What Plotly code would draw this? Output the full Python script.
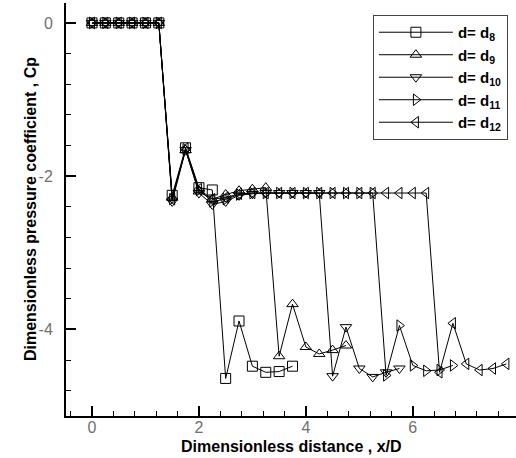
import plotly.graph_objects as go

# x positions (x/D), shared grid, step
x_grid = [0.0, 0.25, 0.5, 0.75, 1.0, 1.25, 1.5, 1.75, 2.0, 2.25, 2.5, 2.75,
          3.0, 3.25, 3.5, 3.75, 4.0, 4.25, 4.5, 4.75, 5.0, 5.25, 5.5, 5.75,
          6.0, 6.25, 6.5, 6.75, 7.0, 7.25, 7.5, 7.75]

cp_d8 = [0, 0, 0, 0, 0, 0, -2.25, -1.63, -2.15, -2.18,
         -4.64, -3.89, -4.48, -4.56, -4.55, -4.48]
cp_d9 = [0, 0, 0, 0, 0, 0, -2.28, -1.66, -2.2, -2.3, -2.24, -2.19, -2.17, -2.15,
         -4.35, -3.67, -4.23, -4.32, -4.27, -4.21]
cp_d10 = [0, 0, 0, 0, 0, 0, -2.33, -1.66, -2.22, -2.37, -2.33, -2.25, -2.23,
          -2.22, -2.22, -2.22, -2.22, -2.22,
          -4.61, -3.97, -4.51, -4.62, -4.56, -4.51]
cp_d11 = [0, 0, 0, 0, 0, 0, -2.3, -1.65, -2.18, -2.33, -2.3, -2.24, -2.22,
          -2.22, -2.22, -2.22, -2.22, -2.22, -2.22, -2.22, -2.22, -2.22,
          -4.6, -3.95, -4.47, -4.54, -4.53, -4.47]
cp_d12 = [0, 0, 0, 0, 0, 0, -2.3, -1.64, -2.17, -2.3, -2.28, -2.23, -2.22,
          -2.22, -2.22, -2.22, -2.22, -2.22, -2.22, -2.22, -2.22, -2.22,
          -2.22, -2.22, -2.22, -2.22,
          -4.56, -3.92, -4.45, -4.53, -4.51, -4.45]

series_names = ["d= d<sub>8</sub>", "d= d<sub>9</sub>", "d= d<sub>10</sub>",
                "d= d<sub>11</sub>", "d= d<sub>12</sub>"]
series_values = [cp_d8, cp_d9, cp_d10, cp_d11, cp_d12]
symbols = ["square-open", "triangle-up-open", "triangle-down-open",
           "triangle-right-open", "triangle-left-open"]

x_tickvals = [0, 2, 4, 6]
x_ticktext = ["0", "2", "4", "6"]
y_tickvals = [0, -2, -4]
y_ticktext = ["0", "-2", "-4"]

fig = go.Figure()
for name, vals, sym in zip(series_names, series_values, symbols):
    fig.add_trace(go.Scatter(
        x=x_grid[:len(vals)], y=vals, name=name, mode="lines+markers",
        line=dict(color="black", width=1),
        marker=dict(symbol=sym, size=10, color="black",
                    line=dict(color="black", width=1)),
    ))

FONT = "Arial, Liberation Sans, sans-serif"
tickfont = dict(family=FONT, size=16, color="#707070")
axis_common = dict(
    showline=True, linecolor="black", linewidth=2, showgrid=False,
    zeroline=False, ticks="inside", ticklen=10, tickwidth=2, tickcolor="black",
    tickfont=tickfont, automargin=False, mirror=False,
)

fig.update_layout(
    width=516, height=458,
    margin=dict(l=66, r=0, t=3, b=42),
    paper_bgcolor="white", plot_bgcolor="white",
    showlegend=True,
    legend=dict(
        x=0.982, y=0.971, xanchor="right", yanchor="top",
        bgcolor="white", bordercolor="#444444", borderwidth=1,
        font=dict(family=FONT, size=15, color="black", weight="bold"),
        itemwidth=74, tracegroupgap=0,
    ),
    xaxis=dict(range=[-0.486, 7.93], tickvals=x_tickvals, ticktext=x_ticktext,
               ticklabelstandoff=-4,
               minor=dict(dtick=0.4, tick0=0, ticks="inside", ticklen=5,
                          tickwidth=1, tickcolor="black"),
               **axis_common),
    yaxis=dict(range=[-5.13, 0.26], tickvals=y_tickvals, ticktext=y_ticktext,
               ticklabelstandoff=8,
               minor=dict(dtick=0.4, tick0=0, ticks="inside", ticklen=5,
                          tickwidth=1, tickcolor="black"),
               **axis_common),
    annotations=[
        dict(text="Dimensionless distance , x/D", xref="paper", yref="paper",
             x=0.502, y=-0.0735, xanchor="center", yanchor="middle",
             showarrow=False,
             font=dict(family=FONT, size=16, color="black", weight="bold")),
        dict(text="Dimensionless pressure coefficient , Cp", xref="paper",
             yref="paper", x=-0.08, y=0.501, xanchor="center", yanchor="middle",
             textangle=-90, showarrow=False,
             font=dict(family=FONT, size=16, color="black", weight="bold")),
    ],
)

fig.write_html("out.html", config={"displayModeBar": False},
               post_script="document.body.style.margin='0';"
                           "document.body.style.padding='0';")
